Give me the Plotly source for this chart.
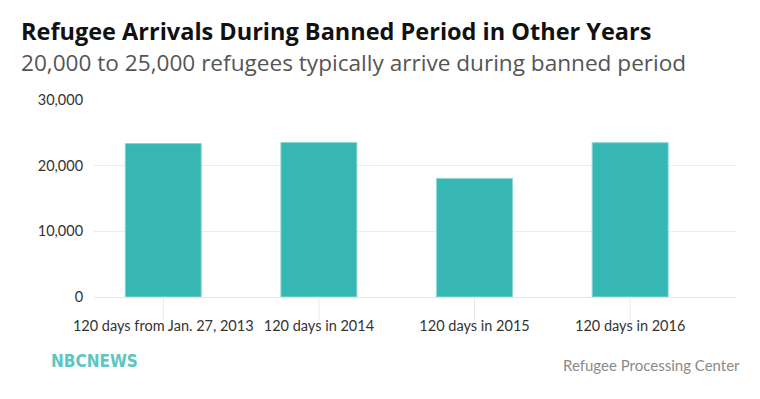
import plotly.graph_objects as go

categories = ["120 days from Jan. 27, 2013", "120 days in 2014", "120 days in 2015", "120 days in 2016"]
arrivals = [23360, 23520, 18060, 23500]
y_ticks = [0, 10000, 20000, 30000]
y_tick_labels = ["0", "10,000", "20,000", "30,000"]

title = "Refugee Arrivals During Banned Period in Other Years"
subtitle = "20,000 to 25,000 refugees typically arrive during banned period"
source = "Refugee Processing Center"

BAR = "#36b7b3"
FONT = "Lato, 'Open Sans', sans-serif"
HFONT = "'Open Sans', sans-serif"

# page is offset by the browser's 8px body margin
OFF = 8
W, H = 760 - OFF, 399 - OFF
L, R = 94 - OFF, 760 - 736
T, B = 99.5 - OFF, 399 - 297.5

fig = go.Figure()
fig.add_trace(go.Bar(
    x=categories, y=arrivals,
    marker=dict(color=BAR, line=dict(color="#8ad6d2", width=1)),
    hoverinfo="x+y",
))

for c in categories:
    fig.add_shape(type="line", xref="x", yref="paper", x0=c, x1=c, y0=0, y1=-0.115,
                  line=dict(color="#e8e8e8", width=1), layer="below")

ph = H - T - B
pw = W - L - R
def py(pix):
    return (H - B - (pix - OFF)) / ph
def px(pix):
    return (pix - OFF - L) / pw

fig.update_layout(
    width=W, height=H,
    margin=dict(l=L, r=R, t=T, b=B, pad=0),
    paper_bgcolor="white", plot_bgcolor="white",
    bargap=0.512,
    showlegend=False,
    font=dict(family=FONT, color="#333333", size=14),
    xaxis=dict(
        type="category", range=[-0.445, 3.68], showgrid=False, zeroline=False,
        showline=False, ticks="outside", ticklen=16, tickcolor="rgba(0,0,0,0)",
        tickfont=dict(size=14.5, color="#333333", family=FONT),
    ),
    yaxis=dict(
        range=[0, 30000], tickvals=y_ticks, ticktext=y_tick_labels,
        showgrid=True, gridcolor="#ececec", gridwidth=1,
        zeroline=True, zerolinecolor="#e6e6e6", zerolinewidth=1,
        showline=False, ticks="outside", ticklen=7, tickcolor="rgba(0,0,0,0)",
        tickfont=dict(size=14.5, color="#333333", family=FONT),
    ),
    annotations=[
        dict(text="<b>" + title + "</b>", xref="paper", yref="paper", x=px(19), y=py(30),
             xanchor="left", yanchor="middle", showarrow=False,
             font=dict(size=23.5, color="#111111", family=HFONT)),
        dict(text=subtitle, xref="paper", yref="paper", x=px(19), y=py(62),
             xanchor="left", yanchor="middle", showarrow=False,
             font=dict(size=22.6, color="#555555", family=HFONT)),
        dict(text="<b>NBCNEWS</b>", xref="paper", yref="paper", x=px(49), y=py(362),
             xanchor="left", yanchor="middle", showarrow=False,
             font=dict(size=17, color="#5cc6bf", family="'Liberation Sans Narrow', 'DejaVu Sans Condensed', sans-serif")),
        dict(text=source, xref="paper", yref="paper", x=px(742), y=py(366),
             xanchor="right", yanchor="middle", showarrow=False,
             font=dict(size=15, color="#8a8a8a", family=FONT)),
    ],
)

fig.write_html("out.html")
